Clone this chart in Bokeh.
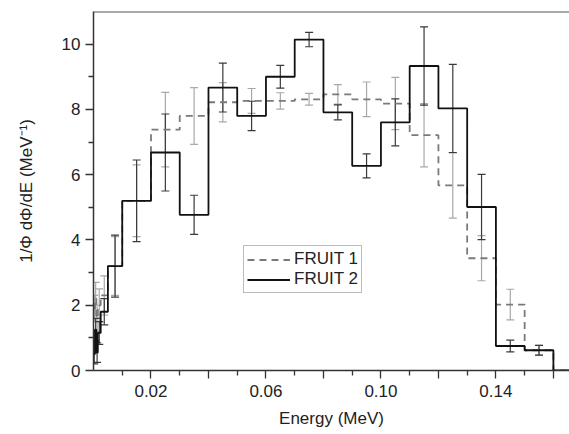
from bokeh.plotting import figure
from bokeh.models import (ColumnDataSource, Whisker, TeeHead, FixedTicker, Legend,
                          LegendItem, Span)
from bokeh.embed import file_html
from bokeh.resources import INLINE

# Bin edges (MeV)
edges = [0.0, 0.0005, 0.001, 0.0015, 0.0025, 0.005, 0.01, 0.02, 0.03, 0.04, 0.05,
         0.06, 0.07, 0.08, 0.09, 0.10, 0.11, 0.12, 0.13, 0.14, 0.15, 0.16, 0.17]

fruit1 = [1.9, 2.2, 1.6, 2.0, 2.3, 3.2, 5.2, 7.38, 7.8, 8.22, 8.26, 8.26, 8.31,
          8.46, 8.31, 8.18, 7.21, 5.67, 3.44, 2.02, 0.62, 0.0]
fruit1_err = [0.4, 0.5, 0.4, 0.5, 0.6, 0.9, 1.1, 1.14, 0.87, 0.6, 0.38, 0.25, 0.18,
              0.3, 0.53, 0.8, 0.97, 1.0, 0.69, 0.47, 0.15, 0.0]

fruit2 = [0.5, 1.25, 0.55, 1.15, 1.8, 3.2, 5.2, 6.68, 4.77, 8.67, 7.8, 9.0, 10.14,
          7.91, 6.27, 7.6, 9.33, 8.03, 5.01, 0.75, 0.62, 0.0]
fruit2_err = [0.3, 0.35, 0.3, 0.35, 0.4, 0.95, 1.25, 1.18, 0.6, 0.75, 0.45, 0.35, 0.22,
              0.23, 0.37, 0.72, 1.2, 1.35, 1.0, 0.18, 0.15, 0.0]

x_major = [0.02, 0.04, 0.06, 0.08, 0.10, 0.12, 0.14, 0.16]
x_labels = ["0.02", "", "0.06", "", "0.10", "", "0.14", ""]
x_minor = [0.01, 0.03, 0.05, 0.07, 0.09, 0.11, 0.13, 0.15]
y_major = [0, 2, 4, 6, 8, 10]
y_minor = [1, 3, 5, 7, 9]

FONT = "Liberation Sans"

p = figure(width=569, height=434, x_range=(0, 0.1656), y_range=(0, 11),
           output_backend="svg", toolbar_location=None,
           min_border_left=93, min_border_right=0, min_border_top=11,
           min_border_bottom=64)
p.grid.visible = False
p.outline_line_color = None
p.background_fill_color = "white"

centers = [(a + b) / 2 for a, b in zip(edges[:-1], edges[1:])]

def whisk(vals, errs, color):
    xs, lo, hi = [], [], []
    for c, v, e in zip(centers, vals, errs):
        if e > 0:
            xs.append(c); lo.append(v - e); hi.append(v + e)
    src = ColumnDataSource(dict(x=xs, lower=lo, upper=hi))
    w = Whisker(source=src, base="x", lower="lower", upper="upper",
                line_color=color, line_width=1.2,
                upper_head=TeeHead(size=8, line_color=color, line_width=1.2),
                lower_head=TeeHead(size=8, line_color=color, line_width=1.2))
    p.add_layout(w)

whisk(fruit1, fruit1_err, "#a8a8a8")
whisk(fruit2, fruit2_err, "#3a3a3a")

r1 = p.step(x=edges, y=fruit1 + [fruit1[-1]], mode="after",
            line_color="#7a7a7a", line_width=1.8, line_dash="7 5")
r2 = p.step(x=edges, y=fruit2 + [fruit2[-1]], mode="after",
            line_color="#111111", line_width=1.8)

p.add_layout(Span(location=11, dimension="width", line_color="#555555", line_width=2))

p.xaxis.ticker = FixedTicker(ticks=x_major, minor_ticks=x_minor)
p.xaxis.major_label_overrides = {t: l for t, l in zip(x_major, x_labels)}
p.yaxis.ticker = FixedTicker(ticks=y_major, minor_ticks=y_minor)

for ax in (p.xaxis[0], p.yaxis[0]):
    ax.axis_line_color = "#333333"
    ax.axis_line_width = 1.5
    ax.major_tick_line_color = "#333333"
    ax.minor_tick_line_color = "#333333"
    ax.major_tick_line_width = 1.3
    ax.minor_tick_line_width = 1.3
    ax.major_tick_in = 0
    ax.major_tick_out = 8
    ax.minor_tick_in = 0
    ax.minor_tick_out = 5
    ax.major_label_text_font = FONT
    ax.major_label_text_font_size = "17px"
    ax.major_label_text_color = "#222222"
    ax.axis_label_text_font = FONT
    ax.axis_label_text_font_style = "normal"
    ax.axis_label_text_color = "#222222"

p.xaxis.axis_label = "Energy (MeV)"
p.xaxis.axis_label_text_font_size = "17px"
p.xaxis.major_label_standoff = 6
p.xaxis.axis_label_standoff = 9
p.yaxis.axis_label = "1/Φ dΦ/dE (MeV⁻¹)"
p.yaxis.axis_label_text_font_size = "17px"
p.yaxis.major_label_standoff = 5
p.yaxis.axis_label_standoff = 23

legend = Legend(items=[LegendItem(label="FRUIT 1", renderers=[r1]),
                       LegendItem(label="FRUIT 2", renderers=[r2])],
                location=(150, 77), border_line_color="#777777", border_line_width=1,
                padding=3, spacing=0, margin=0, glyph_width=43, glyph_height=19,
                label_height=19, label_standoff=4,
                label_text_font=FONT, label_text_font_size="17px",
                label_text_color="#222222", background_fill_alpha=1)
p.add_layout(legend, "center")

open("out.html", "w").write(file_html(p, INLINE))
